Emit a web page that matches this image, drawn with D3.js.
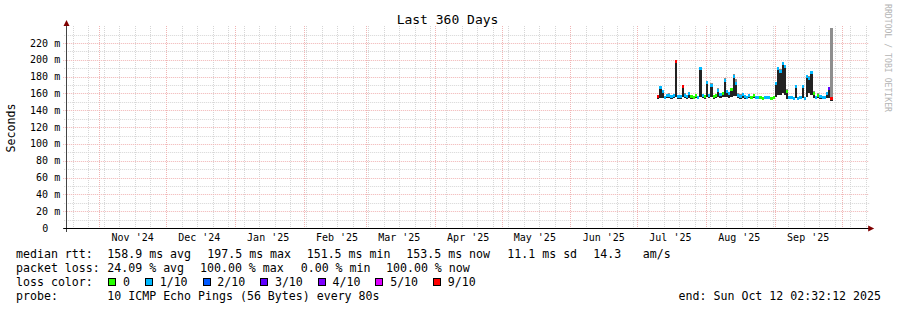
<!DOCTYPE html>
<html>
<head>
<meta charset="utf-8">
<script src="https://cdn.jsdelivr.net/npm/d3@7/dist/d3.min.js"></script>
<style>
  body { margin: 0; background: #fff; }
  svg { display: block; }
  text { font-family: "DejaVu Sans Mono", monospace; white-space: pre; }
</style>
</head>
<body>
<svg id="chart" width="897" height="310"></svg>
<script>
// graph window
const endTime = new Date(Date.UTC(2025, 9, 12, 2, 32, 12));
const spanDays = 360;
const yMaxMs = 237.84;

// one value per day starting here
const firstDay = new Date(Date.UTC(2025, 6, 10));

const medianMs = [
  156, 167, 162, 155, 157, 158, 156, 157, 197.5, 156,
  156, 168, 158, 156, 160, 156, 155, 157, 155, 190,
  157, 156, 173, 157, 170, 156, 157, 163, 159, 160,
  176, 162, 160, 165, 180, 172, 158, 156, 159, 156,
  155, 157, 155, 157, 155, 155, 155, 154, 155, 155,
  155, 154, 155, 172, 190, 186, 196, 192, 162, 155,
  155, 154, 168, 154, 155, 168, 154, 180, 178, 185,
  160, 155, 158, 156, 155, 155, 160, 166, 153.5
];
const lossTenths = [
  9, 1, 1, 1, 1, 1, 1, 1, 9, 1,
  1, 9, 1, 1, 1, 0, 0, 0, 1, 1,
  1, 0, 1, 1, 1, 0, 0, 1, 1, 0,
  1, 1, 1, 0, 1, 1, 1, 1, 1, 1,
  1, 1, 0, 0, 1, 1, 0, 0, 1, 1,
  1, 0, 0, 1, 1, 1, 1, 1, 0, 1,
  1, 1, 1, 1, 1, 1, 1, 1, 1, 1,
  0, 1, 0, 1, 1, 1, 1, 3, 9
];
const smokeLowMs = [
  154, 155, 155, 153, 155, 155, 154, 155, 156, 154,
  154, 156, 155, 154, 155, 154, 153, 155, 153, 156,
  155, 154, 156, 155, 156, 154, 155, 156, 155, 156,
  156, 156, 155, 156, 157, 157, 155, 154, 155, 154,
  153, 155, 153, 155, 153, 153, 153, 152, 153, 153,
  153, 152, 153, 156, 158, 158, 160, 158, 154, 153,
  153, 152, 155, 152, 153, 155, 152, 156, 160, 158,
  155, 153, 155, 154, 153, 153, 155, 155, 151
];
const smokeHighMs = [
  158, 169, 164, 157, 159, 160, 158, 159, 199, 158,
  158, 170, 160, 158, 162, 158, 157, 159, 157, 192,
  159, 158, 175, 159, 172, 158, 159, 166, 161, 162,
  178, 164, 162, 167, 183, 177, 161, 159, 161, 158,
  157, 159, 157, 159, 157, 157, 157, 156, 157, 157,
  157, 156, 157, 174, 192, 189, 198, 194, 165, 157,
  157, 156, 170, 156, 157, 170, 156, 182, 181, 187,
  163, 157, 160, 158, 157, 157, 162, 168, 240
];

const yMajorMs = [0, 20, 40, 60, 80, 100, 120, 140, 160, 180, 200, 220];
const yMinorMs = [10, 30, 50, 70, 90, 110, 130, 150, 170, 190, 210, 230];

const lossLabels = ["0", "1/10", "2/10", "3/10", "4/10", "5/10", "9/10"];
const lossColors = ["#26ff00", "#00b8ff", "#0059ff", "#5e00ff", "#7e00ff", "#dd00ff", "#ff0000"];
const lossSteps = [1, 2, 3, 4, 5, 9];

const rttStats = ["158.9 ms avg", "197.5 ms max", "151.5 ms min", "153.5 ms now", "11.1 ms sd", "14.3", "am/s"];
const lossStats = ["24.09 % avg", "100.00 % max", "0.00 % min", "100.00 % now"];
const probeText = "10 ICMP Echo Pings (56 Bytes) every 80s";

// layout
const plot = { left: 66.2, right: 866.2, top: 28, bottom: 228 };
const rttCols = [107.3, 207.3, 306.7, 406.3, 507.3, 593.3, 642.7];
const lossCols = [107.3, 200, 300.7, 386];
const rowY = [258, 272, 286, 300];
const charW = 6.98;

const startTime = new Date(endTime.getTime() - spanDays * 864e5);
const svg = d3.select("#chart");
const px = v => Math.round(v) + 0.5;

const x = d3.scaleUtc().domain([startTime, endTime]).range([plot.left, plot.right]);
const y = d3.scaleLinear().domain([0, yMaxMs]).range([plot.bottom, plot.top]);
const lossColor = d3.scaleThreshold().domain(lossSteps).range(lossColors);

svg.append("rect").attr("width", 897).attr("height", 310).attr("fill", "#fff");

// grid
const grid = svg.append("g").attr("stroke-dasharray", "1,1").attr("stroke-width", 1);
grid.selectAll(".hmin").data(yMinorMs).join("line")
  .attr("x1", plot.left - 2).attr("x2", plot.right + 3)
  .attr("y1", d => px(y(d))).attr("y2", d => px(y(d)))
  .attr("stroke", "#d6d6d6");
grid.selectAll(".vmin").data(d3.utcSunday.range(startTime, endTime)).join("line")
  .attr("x1", d => px(x(d))).attr("x2", d => px(x(d)))
  .attr("y1", plot.top - 2).attr("y2", plot.bottom + 2)
  .attr("stroke", "#d6d6d6");
grid.selectAll(".hmaj").data(yMajorMs.filter(d => d > 0)).join("line")
  .attr("x1", plot.left - 3).attr("x2", plot.right + 3)
  .attr("y1", d => px(y(d))).attr("y2", d => px(y(d)))
  .attr("stroke", "#f0b4b4");
grid.selectAll(".vmaj").data(d3.utcMonth.range(startTime, endTime)).join("line")
  .attr("x1", d => px(x(d))).attr("x2", d => px(x(d)))
  .attr("y1", plot.top - 2).attr("y2", plot.bottom + 2)
  .attr("stroke", "#f0b4b4");

// data
const days = medianMs.map((m, i) => ({
  t0: d3.utcDay.offset(firstDay, i),
  t1: d3.utcDay.offset(firstDay, i + 1),
  median: m, loss: lossTenths[i], low: smokeLowMs[i], high: Math.min(smokeHighMs[i], yMaxMs)
}));
const colW = d => x(d.t1) - x(d.t0);

const marks = svg.append("g").attr("shape-rendering", "crispEdges");
// outer smoke
marks.selectAll(".smoke").data(days).join("rect")
  .attr("x", d => x(d.t0)).attr("width", colW)
  .attr("y", d => y(d.high)).attr("height", d => y(d.low) - y(d.high))
  .attr("fill", "#8e8e8e");
// dense inner smoke up to the median
marks.selectAll(".core").data(days.filter(d => d.median > d.low)).join("rect")
  .attr("x", d => x(d.t0)).attr("width", colW)
  .attr("y", d => y(d.median)).attr("height", d => y(d.low) - y(d.median))
  .attr("fill", "#222");
// median, coloured by packet loss
marks.selectAll(".median").data(days).join("rect")
  .attr("x", d => x(d.t0)).attr("width", colW)
  .attr("y", d => y(d.median) - 1.5).attr("height", 3)
  .attr("fill", d => lossColor(d.loss));

// axes
const axis = svg.append("g").attr("stroke-width", 1);
axis.append("line")
  .attr("x1", px(plot.left)).attr("x2", px(plot.left))
  .attr("y1", plot.bottom + 4).attr("y2", plot.top - 4)
  .attr("stroke", "#444");
axis.append("line")
  .attr("x1", plot.left - 3).attr("x2", plot.right + 3)
  .attr("y1", px(plot.bottom)).attr("y2", px(plot.bottom))
  .attr("stroke", "#000");
svg.append("path")
  .attr("d", d3.line()([[px(plot.left) - 3, plot.top - 2], [px(plot.left), plot.top - 8], [px(plot.left) + 3, plot.top - 2]]) + "Z")
  .attr("fill", "#7f0000");
svg.append("path")
  .attr("d", d3.line()([[plot.right + 2, px(plot.bottom) - 3], [plot.right + 8, px(plot.bottom)], [plot.right + 2, px(plot.bottom) + 3]]) + "Z")
  .attr("fill", "#7f0000");

// y labels
svg.append("g").selectAll("text").data(yMajorMs).join("text")
  .attr("x", plot.left - 6).attr("y", d => y(d) + 3.5)
  .attr("text-anchor", "end").attr("font-size", 10).attr("fill", "#000")
  .text(d => d === 0 ? "0  " : d + " m");

// month labels (centred half a month after the month start)
const monthFmt = d3.utcFormat("%b '%y");
const months = d3.utcMonth.range(d3.utcMonth.floor(startTime), endTime)
  .map(m => ({ m, c: d3.utcDay.offset(m, 15) }))
  .filter(d => d.c > startTime && d.c < endTime);
svg.append("g").selectAll("text").data(months).join("text")
  .attr("x", d => x(d.c)).attr("y", 241)
  .attr("text-anchor", "middle").attr("font-size", 10).attr("fill", "#000")
  .text(d => monthFmt(d.m));

// titles
svg.append("text").attr("x", 447.5).attr("y", 24).attr("text-anchor", "middle")
  .attr("font-size", 13).attr("fill", "#000").text("Last 360 Days");
svg.append("text").attr("transform", `translate(15,${(plot.top + plot.bottom) / 2}) rotate(-90)`)
  .attr("text-anchor", "middle").attr("font-size", 11.6).attr("fill", "#000").text("Seconds");
svg.append("text").attr("transform", "translate(885,4) rotate(90)")
  .attr("font-size", 8.2).attr("fill", "#b4b4b4")
  .attr("textLength", 108).attr("lengthAdjust", "spacingAndGlyphs")
  .text("RRDTOOL / TOBI OETIKER");

// legend
const legend = svg.append("g").attr("font-size", 11.6).attr("fill", "#000");
legend.append("text").attr("x", 16).attr("y", rowY[0]).text("median rtt:");
legend.selectAll(".rtt").data(rttStats).join("text")
  .attr("x", (d, i) => rttCols[i]).attr("y", rowY[0]).text(d => d);
legend.append("text").attr("x", 16).attr("y", rowY[1]).text("packet loss:");
legend.selectAll(".loss").data(lossStats).join("text")
  .attr("x", (d, i) => lossCols[i]).attr("y", rowY[1]).text(d => d);
legend.append("text").attr("x", 16).attr("y", rowY[2]).text("loss color:");

let sx = 108.3;
lossLabels.forEach((label, i) => {
  legend.append("rect")
    .attr("x", Math.round(sx) + 0.5).attr("y", rowY[2] - 7.5)
    .attr("width", 7).attr("height", 7)
    .attr("fill", lossColors[i]).attr("stroke", "#000");
  legend.append("text").attr("x", sx + 14.7).attr("y", rowY[2]).text(label);
  sx += 14.7 + label.length * charW + 15;
});

legend.append("text").attr("x", 16).attr("y", rowY[3]).text("probe:");
legend.append("text").attr("x", 107.3).attr("y", rowY[3]).text(probeText);
legend.append("text").attr("x", 881).attr("y", rowY[3]).attr("text-anchor", "end")
  .text("end: " + d3.utcFormat("%a %b %d %H:%M:%S %Y")(endTime));
</script>
</body>
</html>
